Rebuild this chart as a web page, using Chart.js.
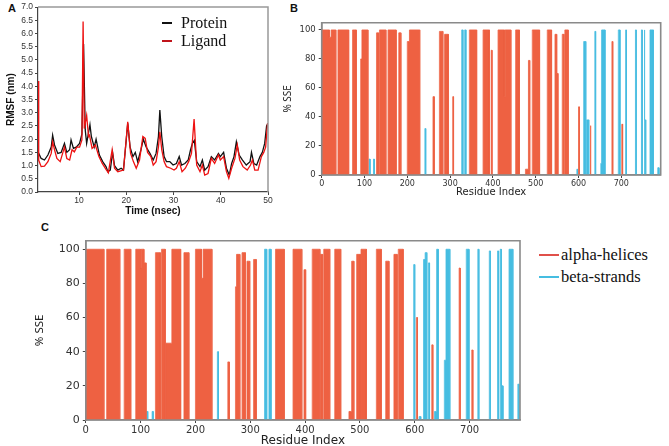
<!DOCTYPE html>
<html>
<head>
<meta charset="utf-8">
<script src="https://cdn.jsdelivr.net/npm/chart.js@4.4.1/dist/chart.umd.min.js"></script>
<style>
  html, body { margin: 0; padding: 0; background: #fff; overflow: hidden; }
  body { position: relative; width: 669px; height: 446px; }
  .box { position: absolute; }
  .tag { position: absolute; font: bold 11px "Liberation Sans", Arial, sans-serif; color: #111; }
  .legend { position: absolute; font-family: "Liberation Serif", "Times New Roman", serif; color: #111; }
  .legend .row { display: flex; align-items: center; white-space: nowrap; }
  .legend .line { display: inline-block; height: 2px; }
</style>
</head>
<body>
<div class="tag" style="left:8px;top:2px">A</div>
<div class="tag" style="left:290px;top:2px">B</div>
<div class="tag" style="left:41px;top:221px">C</div>

<div class="box" style="left:0;top:0;width:290px;height:222px"><canvas id="rmsf"></canvas></div>
<div class="box" style="left:276px;top:10px;width:392px;height:190px"><canvas id="sseB"></canvas></div>
<div class="box" style="left:24px;top:228px;width:506px;height:220px"><canvas id="sseC"></canvas></div>

<div class="legend" id="legA" style="left:162px;top:14px;font-size:16px;line-height:18px"></div>
<div class="legend" id="legC" style="left:539px;top:244px;font-size:16.5px;line-height:22px"></div>

<script>
// ---- Panel A: RMSF vs time ----
const proteinTime = [1.35, 1.97, 2.67, 3.4, 4.1, 4.4, 4.8, 5.5, 6.2, 6.9, 7.4, 8.0, 8.3, 8.8, 9.4, 10.1, 10.6, 10.95, 11.3, 11.6, 12.3, 12.6, 13.2, 13.6, 14.3, 15.0, 15.7, 16.1, 16.6, 17.1, 17.5, 18.2, 18.9, 19.4, 20.3, 20.8, 21.4, 21.9, 22.4, 23.1, 23.6, 24.2, 25.0, 25.7, 26.3, 26.8, 27.1, 27.5, 28.0, 28.5, 29.2, 29.9, 30.6, 31.2, 31.7, 32.4, 33.1, 33.6, 34.0, 34.4, 34.9, 35.6, 36.1, 36.6, 37.3, 38.0, 38.7, 39.5, 39.9, 40.6, 41.2, 41.8, 42.3, 42.8, 43.3, 43.9, 44.6, 45.4, 46.2, 46.5, 47.0, 47.6, 48.3, 48.8, 49.3, 49.7, 50.0];
const proteinRmsf = [1.50, 1.27, 1.21, 1.40, 1.70, 2.15, 1.78, 1.46, 1.50, 1.84, 1.50, 1.60, 1.97, 1.65, 1.70, 1.84, 2.20, 5.60, 2.35, 1.84, 2.55, 2.10, 1.70, 2.00, 1.40, 1.15, 0.96, 0.77, 0.83, 1.50, 1.00, 0.83, 0.90, 0.83, 2.60, 1.70, 1.34, 1.50, 1.15, 1.60, 2.00, 1.70, 1.46, 1.21, 1.46, 2.10, 3.10, 2.10, 1.34, 1.15, 1.15, 1.02, 1.08, 1.34, 1.02, 1.08, 1.21, 1.60, 1.84, 1.95, 1.15, 0.96, 1.21, 0.83, 0.96, 1.34, 1.21, 1.46, 1.34, 1.50, 0.90, 0.64, 1.08, 1.34, 1.90, 1.40, 1.21, 1.02, 1.15, 1.50, 1.08, 1.02, 1.34, 1.50, 1.84, 2.50, 2.60];
const ligandTime = [1.32, 1.45, 1.97, 2.67, 3.4, 4.1, 4.4, 4.8, 5.3, 6.0, 6.9, 7.4, 8.0, 8.5, 9.0, 9.5, 10.1, 10.6, 10.85, 11.1, 11.6, 12.0, 12.2, 12.75, 13.45, 14.2, 14.9, 15.7, 16.2, 17.0, 17.5, 18.2, 19.4, 20.3, 20.9, 21.5, 22.1, 22.8, 23.5, 24.0, 24.5, 25.2, 25.7, 26.3, 26.8, 27.1, 27.5, 28.0, 28.5, 29.4, 30.1, 30.6, 31.2, 31.8, 32.5, 33.2, 33.8, 34.35, 34.9, 35.6, 36.1, 36.6, 37.3, 38.0, 38.7, 39.5, 39.9, 40.6, 41.2, 41.7, 42.3, 43.0, 43.5, 44.0, 44.7, 45.6, 46.3, 46.7, 47.2, 47.9, 48.6, 49.1, 49.5, 49.9];
const ligandRmsf = [4.20, 1.20, 0.96, 0.98, 1.15, 1.46, 1.90, 1.60, 1.27, 1.15, 1.70, 1.27, 1.21, 1.60, 1.52, 1.70, 1.70, 1.97, 6.45, 2.40, 2.90, 2.10, 2.15, 1.65, 1.78, 1.34, 1.08, 0.86, 0.73, 1.60, 0.90, 0.77, 0.83, 2.66, 1.46, 1.15, 0.90, 1.21, 2.10, 2.03, 1.50, 1.34, 1.02, 1.15, 1.70, 2.28, 1.60, 1.15, 0.96, 0.90, 0.83, 0.90, 1.15, 0.77, 0.90, 1.15, 1.46, 2.76, 1.02, 0.77, 1.02, 0.64, 0.70, 1.27, 1.08, 1.40, 1.21, 1.34, 0.77, 0.52, 0.90, 1.27, 1.78, 1.21, 0.96, 0.83, 1.02, 1.21, 0.83, 0.83, 1.34, 1.50, 1.70, 2.60];
const rmsfLabels = ['Protein', 'Ligand'];

// ---- Panels B and C: % SSE per residue, as [first residue, last residue, % SSE] ----
const helixB = [[0,18,100],[18,22,95],[22,33,100],[38,63,100],[72,81,100],[91,94,80],[94,108,100],[128,133,98],[135,150,100],[155,174,100],[180,185,98],[200,205,92],[205,229,100],[260,263,54],[275,283,99],[287,296,97],[306,308,54],[345,362,100],[377,392,100],[396,398,86],[412,427,100],[427,428.5,54],[428.5,442,100],[453,462,100],[476,483,4],[483,486,79],[492,509,100],[527,537,100],[545,549,97],[549,552,70],[562,566,97],[568,576,100],[600,602,47],[627,629,34],[678,680,92],[701,703,35]];
const strandB = [[111,113,11],[121,123,11],[241,243,32],[327,330,100],[334,337,100],[596,598,4],[612,617,92],[619,624,38],[638,640,99],[652,654,8],[654,662,100],[693,697,100],[710,712,100],[733,735,100],[747,749,100],[753,755,100],[755,757,38],[767,775,100],[785,788,5]];
const helixC = [[0,33,100],[38,62,100],[70,82,100],[91,100,100],[100,101,89],[101,106,100],[106,110,92],[127,136,98],[138,145,100],[146,157,45],[157,173,100],[179,188,98],[200,211,100],[211,214,83],[214,230,100],[259,262,34],[273,275,78],[275,281,97],[285,291,98],[294,299,93],[306,311,94],[346,362,100],[378,394,100],[398,401,88],[413,427,100],[428,432,97],[434,445,100],[454,465,100],[480,485,5],[485,489,93],[494,501,97],[502,512,100],[530,539,100],[547,553,93],[562,568,97],[570,579,100],[603,605,60],[631,633,44],[681,683,89],[704,706,41]];
const strandC = [[111,113,5],[121,123,5],[240,242,40],[326,330,100],[334,338,100],[598,600,91],[608,611,2],[616,619,94],[619,622,98],[625,627,92],[636,640,5],[640,643,100],[654,657,35],[657,664,100],[694,699,100],[715,717,100],[736,738,99],[751,753,99],[756,758,100],[758,761,20],[772,779,100],[788,790,21]];
const sseLabels = ['alpha-helices', 'beta-strands'];
const residueTicks = [0, 100, 200, 300, 400, 500, 600, 700];
const sseTicks = [0, 20, 40, 60, 80, 100];

const HELIX = '#ee6142';
const STRAND = '#45bde1';

// grey box around the plot area
const framePlugin = {
  id: 'frame',
  afterDatasetsDraw(chart, args, opts) {
    const a = chart.chartArea, ctx = chart.ctx;
    ctx.save();
    ctx.strokeStyle = opts.color || '#888';
    ctx.lineWidth = opts.width || 1;
    ctx.beginPath();
    if (opts.all) {
      ctx.rect(a.left, a.top, a.right - a.left, a.bottom - a.top);
    } else {
      ctx.moveTo(a.left, a.top); ctx.lineTo(a.right, a.top); ctx.lineTo(a.right, a.bottom);
    }
    ctx.stroke();
    ctx.restore();
  }
};

function pairs(xs, ys) { return xs.map((x, i) => ({x: x, y: ys[i]})); }

// segments touching each other are joined into one block; a null point breaks the line between blocks
function blocks(segs) {
  const pts = [];
  segs.forEach(([s, e, h], i) => {
    const prev = segs[i - 1], next = segs[i + 1];
    if (!prev || prev[1] !== s) pts.push({x: s, y: 0});
    pts.push({x: s, y: h}, {x: e, y: h});
    if (!next || next[0] !== e) pts.push({x: e, y: 0}, {x: e, y: null});
  });
  return pts;
}

// ---- Chart A ----
new Chart(document.getElementById('rmsf'), {
  type: 'line',
  data: {
    datasets: [
      { label: rmsfLabels[0], data: pairs(proteinTime, proteinRmsf), borderColor: '#111', borderWidth: 1.3, pointRadius: 0, tension: 0, order: 2 },
      { label: rmsfLabels[1], data: pairs(ligandTime, ligandRmsf), borderColor: '#ee1111', borderWidth: 1.3, pointRadius: 0, tension: 0, order: 1 }
    ]
  },
  options: {
    responsive: true, maintainAspectRatio: false, animation: false, devicePixelRatio: 1,
    layout: { padding: { top: 7, right: 22, left: 0, bottom: 0 } },
    plugins: { legend: { display: false }, tooltip: { enabled: false }, frame: { color: '#999', width: 1.5, all: false } },
    scales: {
      x: {
        type: 'linear', min: 1.3, max: 50,
        afterBuildTicks: s => { s.ticks = s.ticks.filter(t => t.value % 10 === 0); },
        afterFit: s => { s.height = 30; },
        ticks: { stepSize: 10, padding: 1, color: '#333', font: { family: 'Liberation Sans', size: 8.5 } },
        grid: { display: true, drawOnChartArea: false, tickLength: 3, color: '#444' },
        border: { color: '#444', width: 1.2 },
        title: { display: true, text: 'Time (nsec)', color: '#111', padding: { top: 0, bottom: 5 }, font: { family: 'Liberation Sans', size: 10, weight: 'bold' } }
      },
      y: {
        min: 0, max: 7,
        afterFit: s => { s.width = 38; },
        ticks: { stepSize: 0.5, padding: 2, color: '#333', callback: v => v.toFixed(1), font: { family: 'Liberation Sans', size: 8.5 } },
        grid: { display: true, drawOnChartArea: false, tickLength: 3, color: '#444' },
        border: { color: '#444', width: 1.2 },
        title: { display: true, text: 'RMSF (nm)', color: '#111', padding: { top: 5, bottom: 0 }, font: { family: 'Liberation Sans', size: 10, weight: 'bold' } }
      }
    }
  },
  plugins: [framePlugin]
});

// ---- Charts B and C ----
function sseChart(id, helix, strand, cfg) {
  return new Chart(document.getElementById(id), {
    type: 'line',
    data: {
      datasets: [
        { label: sseLabels[0], data: blocks(helix), borderColor: HELIX, backgroundColor: HELIX, borderWidth: 0.8, fill: 'origin', pointRadius: 0, tension: 0, spanGaps: false },
        { label: sseLabels[1], data: blocks(strand), borderColor: STRAND, backgroundColor: STRAND, borderWidth: 0.8, fill: 'origin', pointRadius: 0, tension: 0, spanGaps: false }
      ]
    },
    options: {
      responsive: true, maintainAspectRatio: false, animation: false, devicePixelRatio: 1,
      layout: { padding: { top: cfg.top, right: cfg.right, left: 0, bottom: 0 } },
      plugins: { legend: { display: false }, tooltip: { enabled: false }, frame: { color: '#8a8a8a', width: 1.6, all: true } },
      scales: {
        x: {
          type: 'linear', min: 0, max: 792,
          afterBuildTicks: s => { s.ticks = residueTicks.map(v => ({ value: v })); },
          afterFit: s => { s.height = cfg.xh; },
          ticks: { padding: cfg.xpad, color: '#333', font: { family: 'DejaVu Sans', size: cfg.xfont } },
          grid: { display: true, drawOnChartArea: false, tickLength: 3, color: '#444' },
          border: { color: '#8a8a8a', width: 1.6 },
          title: { display: true, text: 'Residue Index', color: '#222', padding: { top: 0, bottom: cfg.tpad }, font: { family: 'DejaVu Sans', size: cfg.tfont } }
        },
        y: {
          min: 0, max: 105,
          afterBuildTicks: s => { s.ticks = sseTicks.map(v => ({ value: v })); },
          afterFit: s => { s.width = cfg.yw; },
          ticks: { padding: 3, color: '#333', font: { family: 'DejaVu Sans', size: cfg.yfont } },
          grid: { display: true, drawOnChartArea: false, tickLength: 3, color: '#444' },
          border: { color: '#8a8a8a', width: 1.6 },
          title: { display: true, text: '% SSE', color: '#222', padding: { top: cfg.ypad, bottom: 0 }, font: { family: 'Noto Sans', size: cfg.yt } }
        }
      }
    },
    plugins: [framePlugin]
  });
}

sseChart('sseB', helixB, strandB, { top: 12.7, right: 7.3, xh: 25, yw: 45.7, xfont: 8, yfont: 8.5, tfont: 10, tpad: 2, xpad: 1, ypad: 6, yt: 10 });
sseChart('sseC', helixC, strandC, { top: 12.7, right: 10, xh: 28, yw: 61.8, xfont: 10, yfont: 11, tfont: 12, tpad: 0, xpad: 1, ypad: 9, yt: 11.5 });

// ---- HTML legends ----
function legend(el, labels, colors, lineW, gap) {
  el.innerHTML = labels.map((l, i) =>
    '<div class="row"><span class="line" style="width:' + lineW + 'px;background:' + colors[i] + ';margin-right:' + gap + 'px"></span>' + l + '</div>'
  ).join('');
}
legend(document.getElementById('legA'), rmsfLabels, ['#111', '#c0141b'], 10, 9);
legend(document.getElementById('legC'), sseLabels, ['#e0504a', STRAND], 20, 2);
</script>
</body>
</html>
